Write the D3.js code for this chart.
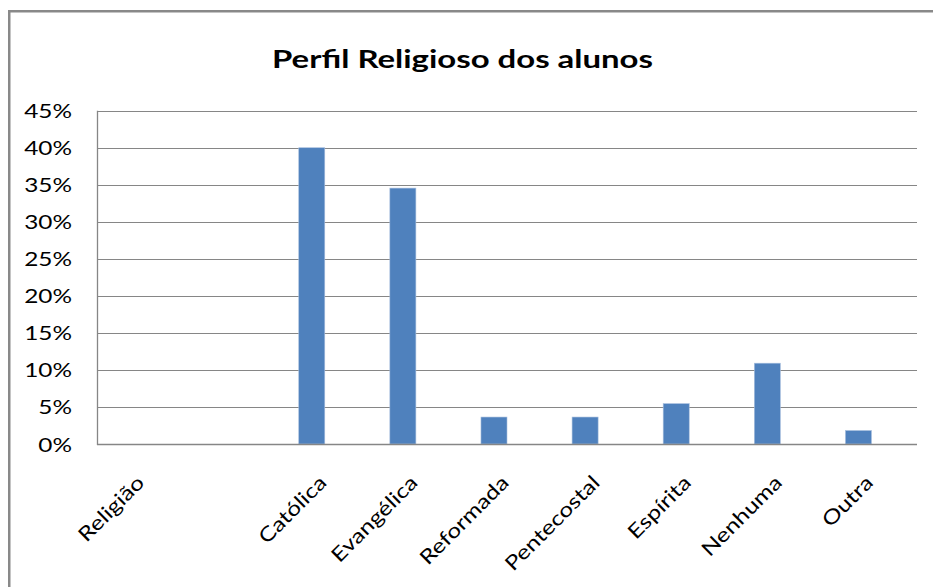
<!DOCTYPE html>
<html>
<head>
<meta charset="utf-8">
<script src="https://cdn.jsdelivr.net/npm/d3@7"></script>
<style>
  html, body { margin: 0; padding: 0; background: #fff; }
  svg { display: block; }
  text { font-family: Lato, "Open Sans", sans-serif; fill: #000; }
</style>
</head>
<body>
<svg id="chart" width="933" height="587"></svg>
<script>
// Data
const title = "Perfil Religioso dos alunos";
const categories = ["Religião", "", "Católica", "Evangélica", "Reformada", "Pentecostal", "Espírita", "Nenhuma", "Outra"];
const seriesValues = [null, null, 0.40, 0.3455, 0.0364, 0.0364, 0.0545, 0.1091, 0.0182];
const emptySeries = [null, null, null, null, null, null, null, null, null];
const yTicks = [0, 0.05, 0.10, 0.15, 0.20, 0.25, 0.30, 0.35, 0.40, 0.45];

const svg = d3.select("#chart");
const plot = { left: 97, right: 917, top: 110.7, bottom: 444 };
const SX = 1.22; // text glyphs in the reference are wider than Lato's

// outer chart border (only top and left visible)
svg.append("rect")
  .attr("x", 9.25).attr("y", 11.25)
  .attr("width", 940).attr("height", 600)
  .attr("fill", "#fff").attr("stroke", "#898989").attr("stroke-width", 2.5);

const x = d3.scaleBand().domain(categories.map((c, i) => i)).range([plot.left, plot.right]).paddingInner(0).paddingOuter(0);
const y = d3.scaleLinear().domain([0, 0.45]).range([plot.bottom, plot.top]);

// clustered: 2 series, gap width 150%
const bw = x.bandwidth() / 3.5;
const x1 = d3.scaleBand().domain([0, 1]).range([bw * 0.75, bw * 2.75]).padding(0);

// gridlines
svg.append("g").selectAll("line").data(yTicks.filter(t => t > 0)).join("line")
  .attr("x1", plot.left).attr("x2", plot.right)
  .attr("y1", d => Math.round(y(d)) + 0.5).attr("y2", d => Math.round(y(d)) + 0.5)
  .attr("stroke", "#868686").attr("stroke-width", 1.2);

// bars
const series = [seriesValues, emptySeries];
series.forEach((vals, si) => {
  svg.append("g").selectAll("rect").data(vals.map((v, i) => ({ v, i })).filter(d => d.v != null)).join("rect")
    .attr("x", d => x(d.i) + x1(si))
    .attr("width", x1.bandwidth())
    .attr("y", d => y(d.v))
    .attr("height", d => y(0) - y(d.v))
    .attr("fill", "#4f81bd")
    .attr("stroke", "#a7bfde").attr("stroke-width", 0.6);
});

// axes lines
svg.append("line").attr("x1", plot.left + 0.5).attr("x2", plot.left + 0.5)
  .attr("y1", plot.top).attr("y2", plot.bottom + 1).attr("stroke", "#868686").attr("stroke-width", 1.3);
svg.append("line").attr("x1", plot.left).attr("x2", plot.right)
  .attr("y1", Math.round(plot.bottom) + 0.5).attr("y2", Math.round(plot.bottom) + 0.5)
  .attr("stroke", "#868686").attr("stroke-width", 1.6);

// y tick labels
const yAxis = d3.axisLeft(y).tickValues(yTicks).tickFormat(d3.format(".0%")).tickSize(0).tickPadding(0);
const ga = svg.append("g").attr("transform", `translate(72,0)`).call(yAxis);
ga.select(".domain").remove();
ga.selectAll("text").attr("font-family", "Lato, sans-serif").attr("font-size", 20).attr("fill", "#000")
  .attr("x", 0).attr("dy", "0.35em").attr("transform", `scale(${SX},1)`);

// x labels
const xAxis = d3.axisBottom(x).tickFormat(i => categories[i]).tickSize(0).tickPadding(0);
const gx = svg.append("g").attr("transform", `translate(0,${plot.bottom})`).call(xAxis);
gx.select(".domain").remove();
gx.selectAll(".tick text")
  .attr("font-family", "Lato, sans-serif").attr("font-size", 20).attr("fill", "#000")
  .attr("text-anchor", "end").attr("dy", 0).attr("y", 0)
  .attr("transform", `translate(3,40) rotate(-45) scale(${SX},1)`);

// title
svg.append("text").attr("x", 272).attr("y", 68).attr("text-anchor", "start")
  .attr("font-size", 24).attr("font-weight", "bold")
  .attr("textLength", 381).attr("lengthAdjust", "spacingAndGlyphs").text(title);
</script>
</body>
</html>
